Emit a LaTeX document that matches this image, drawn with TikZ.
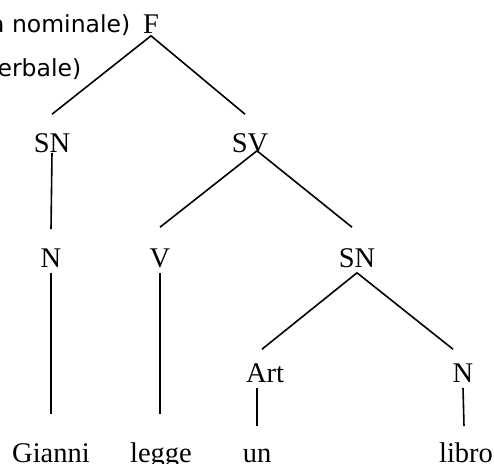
\documentclass[tikz,border=0pt]{standalone}
\usepackage{fontspec}
\setmainfont{Liberation Serif}
\newfontfamily\notefont{DejaVu Sans}
\tikzstyle{cat}=[inner sep=0pt, anchor=base, text height=19pt, text depth=0pt, font=\fontsize{28.5}{30}\selectfont]
\tikzstyle{note}=[inner sep=0pt, anchor=base east, font=\notefont\fontsize{23.5}{26}\selectfont]

\begin{document}
\begin{tikzpicture}[x=1pt, y=-1pt, line width=1.6pt]
    \useasboundingbox (0,0) rectangle (494,463);
    \clip (0,0) rectangle (494,463);
% Notes
    \node[note] (nsn) at (131,32) {(SN = sintagma nominale)};
    \node[note] (nsv) at (82,76) {(SV = sintagma verbale)};
% Categories
    \node[cat] (F) at (151,33) {F};
    \node[cat] (SNa) at (52,152) {SN};
    \node[cat] (SV) at (250,152) {SV};
    \node[cat] (Na) at (51,267) {N};
    \node[cat] (V) at (160,267) {V};
    \node[cat] (SNb) at (357,267) {SN};
    \node[cat] (Art) at (265,382) {Art};
    \node[cat] (Nb) at (463,382) {N};
% Words
    \node[cat] (gianni) at (51,462) {Gianni};
    \node[cat] (legge) at (161,462) {legge};
    \node[cat] (un) at (257,462) {un};
    \node[cat] (libro) at (466,462) {libro};
% Branches
    \draw ([yshift=-2pt]F.south) -- ([yshift=18pt]SNa.north);
    \draw ([yshift=-2pt]F.south) -- ([xshift=-5pt, yshift=18pt]SV.north);
    \draw (SNa.south) -- ([yshift=18pt]Na.north);
    \draw ([xshift=7pt, yshift=2pt]SV.south) -- ([yshift=20pt]V.north);
    \draw ([xshift=7pt, yshift=2pt]SV.south) -- ([xshift=-5pt, yshift=20pt]SNb.north);
    \draw ([yshift=-5pt]SNb.south) -- ([xshift=-3pt, yshift=13pt]Art.north);
    \draw ([yshift=-5pt]SNb.south) -- ([xshift=-10pt, yshift=13pt]Nb.north);
% Leaves
    \draw ([yshift=-5pt]Na.south) -- ([yshift=28pt]gianni.north);
    \draw ([yshift=-5pt]V.south) -- ([xshift=-1pt, yshift=28pt]legge.north);
    \draw ([xshift=-8pt, yshift=-5pt]Art.south) -- ([yshift=16pt]un.north);
    \draw ([yshift=-5pt]Nb.south) -- ([xshift=-2pt, yshift=16pt]libro.north);
\end{tikzpicture}
\end{document}
